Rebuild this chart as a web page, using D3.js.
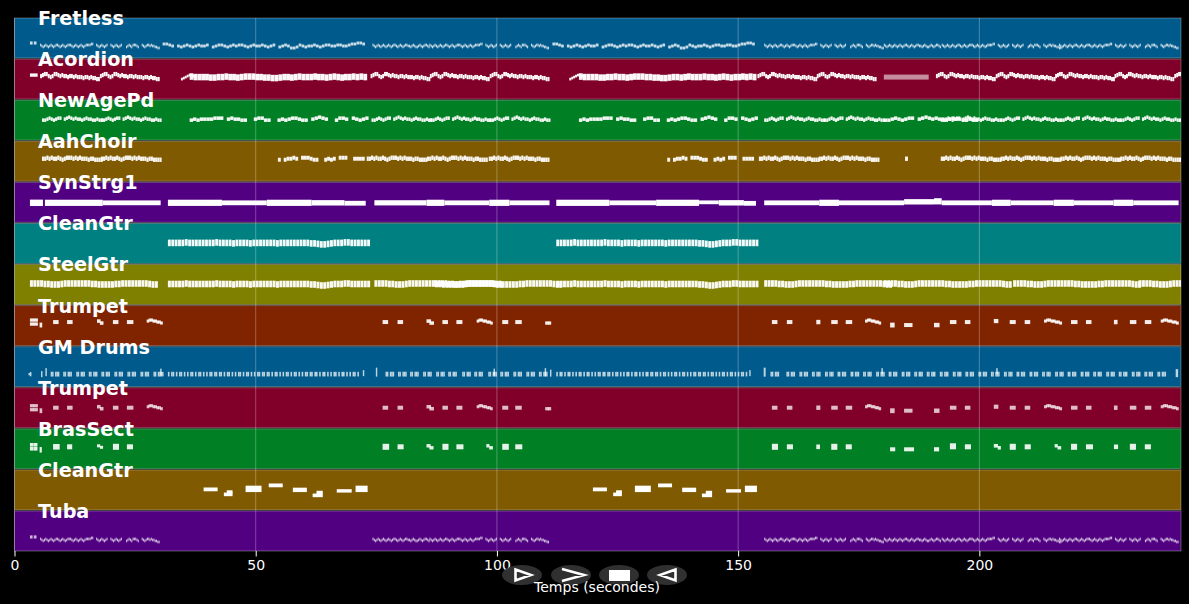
<!DOCTYPE html>
<html>
<head>
<meta charset="utf-8">
<script src="https://cdn.jsdelivr.net/npm/d3@7"></script>
<style>
html,body{margin:0;padding:0;background:#000;overflow:hidden}
svg{display:block}
text{font-family:"DejaVu Sans",sans-serif}
</style>
</head>
<body>
<div id="chart"></div>
<script>
// ---------- categories and axis ----------
const trackNames = ["Fretless","Acordion","NewAgePd","AahChoir","SynStrg1","CleanGtr","SteelGtr","Trumpet","GM Drums","Trumpet","BrasSect","CleanGtr","Tuba"];
const trackColors = ["#005a8c","#80002a","#007f24","#805a00","#500080","#008080","#808000","#802400","#005a8c","#80002a","#007f24","#805a00","#500080"];
const trackBase = [12,22,21,22.5,19.5,20.5,20.5,23.5,12.5,20,22,0,11];
const timeTicks = [0,50,100,150,200];
const timeEnd = 241.8;
const xLabel = "Temps (secondes)";

// ---------- repeated phrases: pitch offsets (null = rest) ----------
const waveA = [1,0,-1,0,1,0,-1,0,1,0,-1,0,1,1,0,-1,0,1,0,-1,0,1,1,1,0,-1,0,1,0,-1,0,1,0,-1,0,1,1,1,1,2,2,null,null,1,0,-1,0,1,0,-1,0,1,null,null,1,0,-1,0,1,0,-1,0,1,null,null,null,-1,0,1,0,-1,1,1,1,0,-1,null,null,1,0,-1,0,1,1,0,1,0,0,-1,-1,-2,-2];
const waveB = [1,0,-1,0,1,0,-1,0,1,0,-1,0,1,0,-1,0,1,1,0,-1,0,1,0,-1,0,1,1,0,0,-1,0,1,0,-1,-1,0,1,0,-1,0,1,1,0,-1];
const fretDashA = [2,2,1,0,null,0,-1,0,1,0,-1,0,1,0,0,1,null,-1,0,1,1,0,-1,0,1,0,1,1,0,-1,0,1,0,0,1];
const fretDashB = [0,-1,0,1,null,-1,0,1,0,-2,-2,-1,1,0,-1,0,0,1,0,-1,0,1,1,0,0,1,1,0,0,1,2,2,3,3,2];
const accTexture = [1,2,3,3,1,0,1,3,3,2,1,2,1,1,0,1,1,0,1,0,0,0,-1,0,0,-1,0,-1,-1,-2,-2];
const accThick = [.5,0,0,0,0,-.5,-.5,0,0,.5,0,0,-.5,0,.5,.5,.5,0,0,-.5,-.5,-1,-1,-.5,0,0,-.5,0,.5,0,0,0,.5,0,0,-.5,0,.5,0,-.5,0,0,.5,0,.5,0];
const accRise = [-2,-1,0,1,2,2,1,1];
const newAgeA = [-1,-1,0,1,0,-1,0,1,1,null,0,1,2,1,0,1,0,0,-1,0,1,0,0,-1,-1,0,-1,-1];
const newAgeB = [-1,0,-1,0,0,0,0,1,1,1,null,0,1,0,0,-1,-1,null,null,0,1,1,-1,-1,null,null,-1,0,-1,0,1,1,0,-1,-1,null,0,1,2,1,0,null,null,-1,1,1,0,null,1,0,-1,0,1];
const aahA = [0,0,1,0,1,0,0,1,0,-1,0,1,1,1,0,1,0,1,0,0,0,-1,0,0,-1,-1,-1,-1];
const aahB = [-1,null,-1,0,0,1,0,null,1,1,1,0,-1,-1,null,null,-1,0,-1,0,null,1,1,1,null,null,0,0,0,0];
const gtrLine = [0,0,0,0,0,.5,0,0,0,0,0,0,0,0,.5,0,0,0,0,-.5,0,0,0,0,-.5,0,0,0,0,0,0,0,-.5,0,0,0,0,0,0,0,0,0,-.5,-.5,-1,-1.5,-1.5,-1,-.5,0,0,0,.5,.5,0,0,0,0,0,0];
const steelA = [.5,.5,.5,.5,0,0,-.5,-.5,-.5,0,.5,.5,.5,.5,.5,.5,.5,.5,0,0,-.5,-.5,-.5,-.5,-.5,0,0,.5,.5,.5,.5,.5,.5,.5,.5,0,-.5,-.5];
const drumHit = [0,0,null,0,0,0];
const drumComb = [0,null,0,0,null,0,null,0,0,null,0,null,0,null,0,0,null,0,null,0,0,null,0,null,0,null,0,0,null,0];
const slope = [1,2,2,1,1,0,0,-1];

// ---------- tracks: runs are [start, step, phrase, span], notes are [start, end, pitch, span] ----------
const fretlessRuns = [[5.3,.27,waveA,2.6],[74.2,.27,waveB,2.6],[86,.27,waveA,2.6],[155.4,.27,waveA,2.6],[180.2,.27,waveB,2.6],[192.2,.27,waveA,2.6],[216.5,.27,waveA,2.6],[30.7,.6,fretDashA,2.8],[51.7,.6,fretDashB,2.8],[111.5,.6,fretDashA,2.8],[132.5,.6,fretDashB,2.8]];
const fretlessNotes = [[3.2,3.8,3,3],[4,4.6,3,3]];
const acordionRuns = [[5.3,.4,accTexture,3.8],[17.7,.4,accTexture,3.8],[34.5,.4,accRise,2.4],[36.3,.8,accThick,5.8],[73.8,.4,accTexture,3.8],[86.1,.4,accTexture,3.8],[98.5,.4,accTexture,3.8],[115,.4,accRise,2.4],[117,.8,accThick,5.8],[154,.4,accTexture,3.8],[166.3,.4,accTexture,3.8],[191,.4,accTexture,3.8],[203.4,.4,accTexture,3.8],[215.7,.4,accTexture,3.8],[228,.4,accTexture,3.8],[240.4,.4,accTexture,3.8]];
const acordionNotes = [[3.2,4.8,2,3]];
const acordionFaint = [[180.2,189.5,0,5]];
const newAgeRuns = [[5.7,.45,newAgeA,3.2],[17.9,.45,newAgeA,3.2],[36.3,.7,newAgeB,3.2],[74,.45,newAgeA,3.2],[86.2,.45,newAgeA,3.2],[98.5,.45,newAgeA,3.2],[117,.7,newAgeB,3.2],[155.4,.45,newAgeA,3.2],[167.8,.45,newAgeA,3.2],[180.2,.7,newAgeA,3.2],[192,.45,newAgeA,3.2],[204.4,.45,newAgeA,3.2],[216.8,.45,newAgeA,3.2],[229.2,.45,newAgeA,3.2]];
const aahRuns = [[5.7,.45,aahA,4],[17.9,.45,aahA,4],[54.6,.6,aahB,3.6],[73,.45,aahA,4],[85.5,.45,aahA,4],[98.3,.45,aahA,4],[135.3,.6,aahB,3.6],[154.3,.45,aahA,4],[166.7,.45,aahA,4],[192,.45,aahA,4],[204.4,.45,aahA,4],[216.8,.45,aahA,4],[229.2,.45,aahA,4]];
const aahNotes = [[184.6,185.2,0,4]];
const synNotes = [[3.2,5.9,0,6.4],[6.3,18.3,0,6.2],[18.3,30.3,0,4.8],[31.8,43,0,6.2],[43,52.3,0,4.8],[52.3,61.6,0,6.2],[61.6,68.4,0,5.4],[68.4,72.8,-.4,4.8],[74.6,85.4,0,5.2],[85.4,89.1,0,6.2],[89.1,98.4,0,4.8],[98.4,102.6,0,6.2],[102.6,110.9,0,4.8],[112.3,123.3,0,6.2],[123.3,133,0,4.8],[133,141.9,0,6.2],[141.9,146,.5,3.8],[146,151.2,0,5.4],[151.2,153.7,-.5,4.8],[155.4,166.8,0,4.8],[166.8,170.9,0,6.2],[170.9,184.4,0,4.8],[184.4,190.6,1,5.4],[190.6,192.2,1.5,6.2],[192.2,202.6,0,4.8],[202.6,206.5,0,6.2],[206.5,215.4,0,4.8],[215.4,219.6,0,6.2],[219.6,227.8,0,4.8],[227.8,231.9,0,6.2],[231.9,241.3,0,4.8]];
const cleanGtrRuns = [[31.8,.7,gtrLine,6.6],[112.3,.7,gtrLine,6.6]];
const steelRuns = [[3.2,.7,steelA,6.6],[31.8,.7,gtrLine,6.6],[74.6,.7,steelA,6.6],[87,.7,steelA,6.6],[112.3,.7,gtrLine,6.6],[155.4,.7,steelA,6.6],[180.2,.7,steelA,6.6],[207,.7,steelA,6.6],[233,.7,steelA,6.6]];
const trumpetRuns = [[27.4,.4,slope,2.8],[95.8,.4,slope,2.8],[176.3,.4,slope,2.8],[213.4,.45,slope,2.8],[237.6,.45,slope,2.8]];
const trumpetNotes = [[3.2,3.9,2,3],[4,4.7,2,3],[3.2,3.9,-2,3],[4,4.7,-2,3],[5.2,5.6,-3,4.4],[8,9,0,3.6],[10.9,11.9,0,3.6],[17.1,17.7,1,3.2],[17.7,18.3,-1,3.2],[20.4,21.4,0,3.6],[23.3,24.5,0,3.6],[76.3,77.3,0,3.6],[79.4,80.4,0,3.6],[85.4,86.2,1,3.2],[86,86.8,-1,3.2],[88.7,89.7,0,3.6],[91.6,92.7,0,3.6],[101.1,102.2,0,3.6],[103.8,105,0,3.6],[110,110.6,-1,3],[110.6,111.1,-1,3],[157,158,0,3.6],[160.1,161.1,0,3.6],[166.2,166.9,0,4],[169.3,170.5,0,3.6],[172.3,173.5,0,3.6],[181.5,182.3,-3,4.4],[184.4,186,-3,3.6],[190.6,191.6,-3,4],[193.9,195.1,0,3.6],[197,198,0,3.6],[203,203.8,1,3.8],[206.3,207.4,0,3.6],[209.4,210.4,0,3.6],[219,220.2,0,3.6],[222.1,223.1,0,3.6],[227.9,228.5,0,4],[231.2,232.4,0,3.6],[234.3,235.5,0,3.6]];
const drumHits = [8.4,11,13.7,16.3,18.9,21.6,24.3,27,29.7,77.8,80.4,82.9,85.6,88.3,90.8,93.7,96.2,99.1,101.6,104.3,107,109.6,157.6,160.9,163.6,166.2,168.9,171.5,174.2,176.8,179.5,182.1,184.8,187.4,190,192.7,195.4,198,200.7,203.3,206,208.6,211.3,213.9,216.6,219.2,221.9,224.5,227.2,229.8,232.5,235.1,237.8];
const drumRuns = [[31.8,.33,drumComb,4.6],[41.7,.33,drumComb,4.6],[51.6,.33,drumComb,4.6],[61.5,.33,drumComb,4.6],[112.3,.33,drumComb,4.6],[122.2,.33,drumComb,4.6],[132.1,.33,drumComb,4.6],[142,.33,drumComb,4.6]];
const drumNotes = [[2.9,3.2,0,2.4],[3.2,3.5,1,2.4],[3.2,3.5,-1,2.4],[5.5,5.8,0,6],[6.4,6.7,2,8],[30.2,30.5,2,7],[30.6,30.9,0,4.4],[72.2,72.5,1,6],[74.9,75.2,2,9],[99.3,99.6,2,7],[109.9,110.2,2,8],[111,111.3,1,7],[152.3,152.6,1,6],[155.3,155.7,2,9],[179.7,180,3,6],[203.5,203.8,3,6],[240.7,241.2,1,8]];
const brassNotes = [[3.2,3.9,2,3.6],[4,4.7,2,3.6],[3.2,3.9,-2,3.6],[4,4.7,-2,3.6],[5.2,5.6,-3,5.6],[8,9.3,0,5.6],[10.9,11.9,0,5],[17.1,17.7,1,3],[17.7,18.3,-.5,3],[20.4,21.6,0,6],[23.3,24.5,0,5],[76.3,77.6,0,6],[79.4,80.6,0,5],[85.4,86.2,1,3.4],[86,86.8,-1,3.4],[88.7,89.9,0,6],[91.6,93,0,5],[97.8,98.4,1,3.4],[98.4,99.1,-1,3.4],[101.1,102.4,0,6],[103.8,105.2,0,5],[157,158.2,0,6],[160.1,161.3,0,5],[166.2,166.9,0,4.6],[169.3,170.5,0,6],[172.3,173.5,0,5],[181.5,182.5,-2.5,4],[184.4,186.4,-2.5,4],[190.6,191.6,-2.5,4.2],[193.9,195.1,.5,6],[197,198.2,0,5],[203,203.8,1,3.6],[203.8,204.4,-1,3.6],[206.3,207.5,0,6],[209.4,210.6,0,5],[215.6,216.2,1,3.4],[216.2,216.9,-1,3.4],[219,220.2,0,6],[222.1,223.5,0,5],[227.9,228.7,0,4.6],[231.2,232.4,0,6],[234.3,235.5,0,5]];
const lowGtrNotes = [[39.2,42.1,20.5,3.8],[43.4,45.2,15.5,3.6],[44,45.2,18,3.2],[47.9,51.2,21,6.4],[52.7,55.6,24.5,3.8],[57.7,60.6,20,4.4],[61.8,63.9,14.5,3.6],[62.6,63.9,17.5,3.2],[66.8,69.9,19,3.4],[70.7,73.2,21,6.4],[119.9,122.8,20.5,3.8],[124.1,125.9,15.5,3.6],[124.7,125.9,18,3.2],[128.6,131.9,21,6.4],[133.4,136.3,24.5,3.8],[138.4,141.3,20,4.4],[142.5,144.6,14.5,3.6],[143.3,144.6,17.5,3.2],[147.5,150.6,19,3.4],[151.4,153.9,21,6.4]];

const tubaRuns = [[5.3,.27,waveA,2.6],[74.2,.27,waveB,2.6],[86,.27,waveA,2.6],[155.4,.27,waveA,2.6],[180.2,.27,waveB,2.6],[192.2,.27,waveA,2.6],[216.5,.27,waveA,2.6]];
const trackRuns = [fretlessRuns,acordionRuns,newAgeRuns,aahRuns,[],cleanGtrRuns,steelRuns,trumpetRuns,drumRuns,trumpetRuns,[],[],tubaRuns];
const trackNotes = [fretlessNotes,acordionNotes,[],aahNotes,synNotes,[],[],trumpetNotes,drumNotes.concat(drumHits.flatMap(t=>drumHit.map((p,i)=>p===null?null:[t-.9+i*.3,t-.6+i*.3,p,4.8]).filter(Boolean))),trumpetNotes,brassNotes,lowGtrNotes,fretlessNotes];

// ---------- layout and styling ----------
const W=1189,H=604;
const panelLeft=14.5,panelRight=1181,panelTop=18,bandStep=41.08,panelH=40;
const noteAlpha=[.78,.97,.94,.94,1,.95,.95,.92,.74,.74,.9,1,.7];
const noteGap=[.2,0,0,0,0,.5,.4,-.7,0,-.7,-.3,0,.2];
const spanGain=[1.05,1.12,1.1,1.1,1,1,1,1.1,1,1.1,1,1,1.05];

const svg=d3.select("#chart").append("svg").attr("width",W).attr("height",H);
svg.append("rect").attr("width",W).attr("height",H).attr("fill","#000");
const x=d3.scaleLinear().domain([0,timeEnd]).range([panelLeft,panelRight]);
const band=d3.scaleLinear().domain([0,1]).range([panelTop,panelTop+bandStep]);
const pitch=d3.scaleLinear().domain([0,40]).range([panelH,0]);

svg.append("clipPath").attr("id","clip").append("rect").attr("x",panelLeft).attr("y",0).attr("width",panelRight-panelLeft).attr("height",H);

function flatten(i){
  const base=trackBase[i], out=[];
  trackRuns[i].forEach(([t0,step,phrase,span])=>phrase.forEach((p,k)=>{
    if(p!==null) out.push([t0+k*step,t0+(k+1)*step,base+p,span*spanGain[i]]);
  }));
  trackNotes[i].forEach(([a,b,p,s])=>out.push([a,b,base+p,s*spanGain[i]]));
  return out;
}

const rows=svg.selectAll("g.track").data(trackNames).join("g").attr("class","track")
  .attr("transform",(d,i)=>`translate(0,${band(i)})`);
rows.append("rect").attr("x",panelLeft).attr("y",0).attr("width",panelRight-panelLeft).attr("height",panelH)
  .attr("fill",(d,i)=>trackColors[i]).attr("stroke","#fff").attr("stroke-opacity",.3).attr("stroke-width",1);

rows.each(function(d,i){
  const g=d3.select(this).append("g").attr("clip-path","url(#clip)");
  g.selectAll("rect").data(flatten(i)).join("rect")
    .attr("x",n=>x(n[0])).attr("width",n=>Math.max(.6,x(n[1])-x(n[0])-noteGap[i]))
    .attr("y",n=>pitch(n[2]+n[3]/2)).attr("height",n=>pitch(n[2]-n[3]/2)-pitch(n[2]+n[3]/2))
    .attr("fill","#fff").attr("fill-opacity",noteAlpha[i]);
  if(i===1){
    g.selectAll("rect.faint").data(acordionFaint).join("rect").attr("class","faint")
      .attr("x",n=>x(n[0])).attr("width",n=>x(n[1])-x(n[0]))
      .attr("y",n=>pitch(trackBase[1]+n[2]+n[3]/2)).attr("height",n=>pitch(n[2]-n[3]/2)-pitch(n[2]+n[3]/2))
      .attr("fill","#fff").attr("fill-opacity",.55);
  }
});

// grid
svg.selectAll("line.grid").data(timeTicks).join("line").attr("class","grid")
  .attr("x1",d=>x(d)).attr("x2",d=>x(d)).attr("y1",panelTop).attr("y2",band(12)+panelH)
  .attr("stroke","#fff").attr("stroke-opacity",.28);

// labels
rows.append("text").text(d=>d).attr("x",38).attr("y",7).attr("fill","#fff")
  .attr("font-size",19.2).attr("font-weight","bold");

// axis
const axis=d3.axisBottom(x).tickValues(timeTicks).tickFormat(d3.format("d")).tickSize(5.5).tickPadding(4);
const ax=svg.append("g").attr("transform",`translate(0,${band(12)+panelH})`).call(axis);
ax.select(".domain").remove();
ax.selectAll("line").attr("stroke","#fff");
ax.selectAll("text").attr("fill","#fff").attr("font-size",14);

// player buttons
const btnCx=[522,571,619,667];
svg.selectAll("ellipse.btn").data(btnCx).join("ellipse").attr("class","btn")
  .attr("cx",d=>d).attr("cy",575).attr("rx",20).attr("ry",10).attr("fill","#333").attr("fill-opacity",.95);
const glyph=d3.path();
glyph.moveTo(515.5,569.5);glyph.lineTo(531,575);glyph.lineTo(515.5,580.5);glyph.closePath();
glyph.moveTo(562,569);glyph.lineTo(584,575);glyph.lineTo(562,581);
glyph.moveTo(675.5,569.5);glyph.lineTo(660,575);glyph.lineTo(675.5,580.5);glyph.closePath();
svg.append("path").attr("d",glyph.toString()).attr("fill","none").attr("stroke","#fff").attr("stroke-width",2.6);
svg.append("rect").attr("x",609).attr("y",570).attr("width",21).attr("height",11).attr("fill","#fff");

svg.append("text").attr("x",597).attr("y",592).attr("text-anchor","middle").attr("fill","#fff").attr("font-size",14).text(xLabel);
</script>
</body>
</html>
